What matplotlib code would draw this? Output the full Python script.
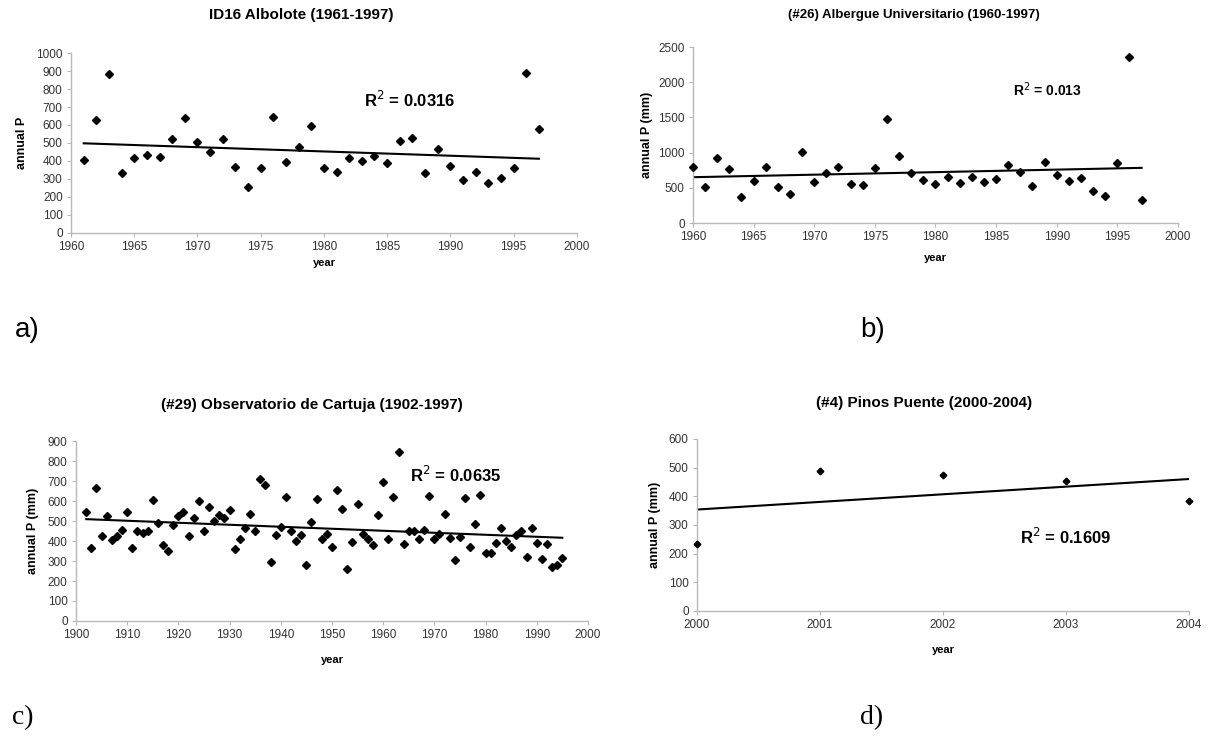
import numpy as np
import matplotlib
matplotlib.use("Agg")
import matplotlib.pyplot as plt

plt.rcParams['font.family'] = ['Liberation Sans', 'DejaVu Sans']

# a) ID16 Albolote
years_a = list(range(1961, 1998))
p_a = [406, 627, 882, 332, 419, 434, 422, 522, 637, 507,
       450, 524, 369, 256, 360, 644, 393, 480, 595, 360,
       339, 415, 402, 428, 387, 509, 526, 332, 469, 373,
       293, 338, 279, 304, 363, 891, 579]

# b) (#26) Albergue Universitario
years_b = list(range(1960, 1998))
p_b = [791, 507, 923, 767, 369, 597, 795, 511, 412, 1004,
       582, 706, 791, 559, 545, 781, 1477, 947, 706, 616,
       559, 649, 563, 649, 587, 620, 829, 724, 530, 871,
       677, 601, 639, 450, 384, 852, 2353, 331]

# c) (#29) Observatorio de Cartuja
years_c = list(range(1902, 1996))
p_c = [547, 363, 663, 425, 525, 405, 425, 455, 547, 363,
       452, 438, 452, 605, 492, 380, 352, 478, 525, 543,
       425, 513, 600, 452, 568, 502, 530, 517, 555, 358,
       410, 467, 537, 452, 710, 680, 297, 428, 468, 622,
       450, 402, 430, 278, 493, 612, 410, 435, 372, 653,
       558, 262, 395, 585, 435, 412, 380, 530, 693, 412,
       620, 847, 383, 452, 452, 408, 453, 623, 412, 437,
       535, 413, 305, 418, 613, 372, 485, 632, 338, 338,
       388, 467, 402, 368, 430, 450, 320, 467, 388, 308,
       385, 270, 280, 315]

# d) (#4) Pinos Puente
years_d = [2000, 2001, 2002, 2003, 2004]
p_d = [234, 489, 474, 453, 385]

panels = [
    dict(x=years_a, y=p_a, title="ID16 Albolote (1961-1997)", ylabel="annual P",
         r2="R$^2$ = 0.0316", r2pos=(1983.2, 739), xlim=(1960, 2000), xstep=5,
         ylim=(0, 1000), ystep=100, ms=4.4, tfs=11, r2fs=12),
    dict(x=years_b, y=p_b, title="(#26) Albergue Universitario (1960-1997)",
         ylabel="annual P (mm)", r2="R$^2$ = 0.013", r2pos=(1986.4, 1889),
         xlim=(1960, 2000), xstep=5, ylim=(0, 2500), ystep=500, ms=4.2,
         tfs=9.5, r2fs=10),
    dict(x=years_c, y=p_c, title="(#29) Observatorio de Cartuja (1902-1997)",
         ylabel="annual P (mm)", r2="R$^2$ = 0.0635", r2pos=(1965.2, 730),
         xlim=(1900, 2000), xstep=10, ylim=(0, 900), ystep=100, ms=4.0,
         tfs=11, r2fs=12),
    dict(x=years_d, y=p_d, title="(#4) Pinos Puente (2000-2004)",
         ylabel="annual P (mm)", r2="R$^2$ = 0.1609", r2pos=(2002.63, 258),
         xlim=(2000, 2004), xstep=1, ylim=(0, 600), ystep=100, ms=3.4,
         tfs=11, r2fs=12),
]

# axes rectangles in figure fractions, title centres and label offsets
rects = [[0.0587, 0.684, 0.418, 0.244],
         [0.5727, 0.6974, 0.4008, 0.2388],
         [0.0628, 0.1574, 0.4231, 0.2442],
         [0.576, 0.171, 0.4066, 0.2334]]
title_xy = [(301, 15), (914, 15), (312, 405), (924, 403)]
ylab_x = [-0.097, -0.095, -0.084, -0.085]
xlab_y = [-0.167, -0.199, -0.217, -0.227]

fig = plt.figure(figsize=(12.1, 7.37), dpi=100)
W, H = 1210, 737

for p, rect, txy, yx, xy in zip(panels, rects, title_xy, ylab_x, xlab_y):
    ax = fig.add_axes(rect)
    x = np.array(p["x"], dtype=float)
    y = np.array(p["y"], dtype=float)
    ax.plot(x, y, linestyle="none", marker="D", ms=p["ms"], color="black",
            clip_on=False, zorder=3)
    k, b = np.polyfit(x, y, 1)
    xs = np.array([x[0], x[-1]])
    ax.plot(xs, k * xs + b, color="black", lw=1.5, zorder=2)

    ax.set_xlim(*p["xlim"])
    ax.set_ylim(*p["ylim"])
    ax.set_xticks(np.arange(p["xlim"][0], p["xlim"][1] + 1, p["xstep"]))
    ax.set_yticks(np.arange(p["ylim"][0], p["ylim"][1] + 1, p["ystep"]))
    for s in ["top", "right"]:
        ax.spines[s].set_visible(False)
    for s in ["left", "bottom"]:
        ax.spines[s].set_color("#b8b8b8")
        ax.spines[s].set_linewidth(1.0)
    ax.tick_params(length=3, width=0.8, color="#b8b8b8", labelsize=8.5,
                   labelcolor="#333333", pad=3)

    ax.text(p["r2pos"][0], p["r2pos"][1], p["r2"], fontsize=p["r2fs"],
            fontweight="bold", ha="left", va="center")
    ax.text(yx, 0.5, p["ylabel"], transform=ax.transAxes, rotation=90,
            ha="center", va="center", fontsize=9, fontweight="bold")
    ax.text(0.5, xy, "year", transform=ax.transAxes, ha="center",
            va="center", fontsize=8, fontweight="bold")
    fig.text(txy[0] / W, 1 - txy[1] / H, p["title"], ha="center",
             va="center", fontsize=p["tfs"], fontweight="bold")

# panel letters
fig.text(15 / W, 1 - 330 / H, "a)", fontsize=20, va="center", ha="left")
fig.text(860 / W, 1 - 330 / H, "b)", fontsize=20, va="center", ha="left")
fig.text(12 / W, 1 - 718 / H, "c)", fontsize=20, va="center", ha="left",
         family="Liberation Serif")
fig.text(860 / W, 1 - 718 / H, "d)", fontsize=20, va="center", ha="left",
         family="Liberation Serif")

fig.savefig("out.png", dpi=100, facecolor="white")
